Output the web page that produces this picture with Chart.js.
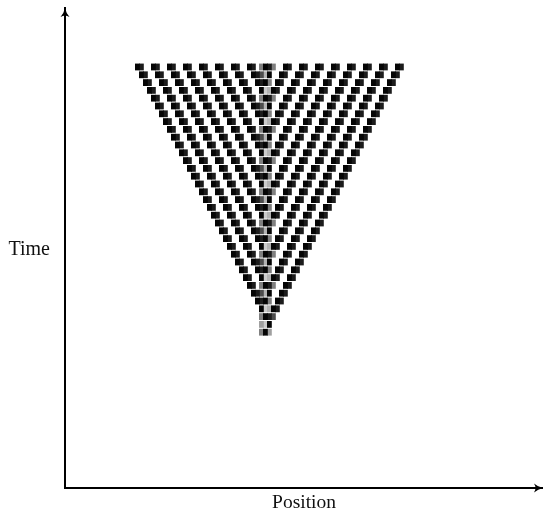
<!DOCTYPE html>
<html>
<head>
<meta charset="utf-8">
<title>Time / Position</title>
<script src="https://cdn.jsdelivr.net/npm/chart.js@4"></script>
<style>
  html, body { margin: 0; padding: 0; background: #fff; }
  canvas { display: block; }
</style>
</head>
<body>
<canvas id="myChart" width="543" height="512"></canvas>
<script>
// darkness read per cell, one string per time step. '.' is empty, 0 black up to 9 very light
const rows = [
  '01..01..01..01..01..01..01..01.5015..01..01..01..01..01..01..01..01',
  '.01..01..01..01..01..01..01..01370..01..01..01..01..01..01..01..01.',
  '..01..01..01..01..01..01..01..0105.01..01..01..01..01..01..01..01..',
  '...01..01..01..01..01..01..01..08701..01..01..01..01..01..01..01...',
  '....01..01..01..01..01..01..01.5015..01..01..01..01..01..01..01....',
  '.....01..01..01..01..01..01..01370..01..01..01..01..01..01..01.....',
  '......01..01..01..01..01..01..0105.01..01..01..01..01..01..01......',
  '.......01..01..01..01..01..01..08701..01..01..01..01..01..01.......',
  '........01..01..01..01..01..01.5015..01..01..01..01..01..01........',
  '.........01..01..01..01..01..01370..01..01..01..01..01..01.........',
  '..........01..01..01..01..01..0105.01..01..01..01..01..01..........',
  '...........01..01..01..01..01..08701..01..01..01..01..01...........',
  '............01..01..01..01..01.5015..01..01..01..01..01............',
  '.............01..01..01..01..01370..01..01..01..01..01.............',
  '..............01..01..01..01..0105.01..01..01..01..01..............',
  '...............01..01..01..01..08701..01..01..01..01...............',
  '................01..01..01..01.5015..01..01..01..01................',
  '.................01..01..01..01370..01..01..01..01.................',
  '..................01..01..01..0105.01..01..01..01..................',
  '...................01..01..01..08701..01..01..01...................',
  '....................01..01..01.5015..01..01..01....................',
  '.....................01..01..01370..01..01..01.....................',
  '......................01..01..0105.01..01..01......................',
  '.......................01..01..08701..01..01.......................',
  '........................01..01.5015..01..01........................',
  '.........................01..01370..01..01.........................',
  '..........................01..0105.01..01..........................',
  '...........................01..08701..01...........................',
  '............................01.5015..01............................',
  '.............................01370..01.............................',
  '..............................0105.01..............................',
  '...............................08701...............................',
  '...............................5013................................',
  '...............................680.................................',
  '...............................506.................................'
]
const shades = ['#050505', '#1c1c1c', '#333333', '#4d4d4d', '#666666', '#808080', '#a0a0a0', '#b3b3b3', '#cccccc', '#e6e6e6']
const xLabel = 'Position'
const yLabel = 'Time'

// light levels first so the dark cells sit on top where the soft edges overlap
const datasets = shades.map((color, level) => {
  const cells = []
  rows.forEach((row, r) => {
    for (let c = 0; c < row.length; c++) {
      if (row[c] === String(level)) cells.push({ x: [c, c + 1], y: r })
    }
  })
  return {
    label: 'level ' + level,
    data: cells,
    order: level,
    backgroundColor: color,
    borderWidth: 0,
    borderSkipped: false,
    inflateAmount: 0.4,
    barThickness: 6,
    grouped: false
  }
})

// arrow heads at the end of both axes
const arrows = {
  id: 'arrows',
  afterDraw(chart) {
    const { ctx, chartArea: a } = chart
    ctx.save()
    ctx.fillStyle = '#000'
    ctx.beginPath()
    ctx.moveTo(a.left, a.top)
    ctx.quadraticCurveTo(a.left + 1, a.top + 5, a.left + 4.5, a.top + 9)
    ctx.quadraticCurveTo(a.left, a.top + 6, a.left - 4.5, a.top + 9)
    ctx.quadraticCurveTo(a.left - 1, a.top + 5, a.left, a.top)
    ctx.fill()
    ctx.beginPath()
    ctx.moveTo(a.right, a.bottom)
    ctx.quadraticCurveTo(a.right - 5, a.bottom + 1, a.right - 9, a.bottom + 4.5)
    ctx.quadraticCurveTo(a.right - 6, a.bottom, a.right - 9, a.bottom - 4.5)
    ctx.quadraticCurveTo(a.right - 5, a.bottom - 1, a.right, a.bottom)
    ctx.fill()
    ctx.restore()
  }
}

// the picture is a soft upscaled raster, so the cells get a slight blur
const softCells = {
  id: 'softCells',
  beforeDatasetsDraw(chart) { chart.ctx.filter = 'blur(0.4px)' },
  afterDatasetsDraw(chart) { chart.ctx.filter = 'none' }
}

new Chart(document.getElementById('myChart'), {
  type: 'bar',
  data: { datasets: datasets },
  plugins: [softCells, arrows],
  options: {
    indexAxis: 'y',
    responsive: false,
    animation: false,
    layout: { padding: { top: 8 } },
    plugins: {
      legend: { display: false },
      tooltip: { enabled: false }
    },
    scales: {
      x: {
        type: 'linear',
        min: -17.6,
        max: 101.9,
        grid: { display: false },
        border: { display: true, color: '#000', width: 2 },
        ticks: { display: false },
        title: {
          display: true,
          text: xLabel,
          color: '#111',
          font: { family: '"Liberation Serif"', size: 19.5, lineHeight: 0.9 },
          padding: 0
        },
        afterFit(scale) { scale.height = 24 }
      },
      y: {
        type: 'linear',
        reverse: true,
        offset: false,
        min: -7.56,
        max: 53.97,
        grid: { display: false, drawTicks: false },
        border: { display: true, color: '#000', width: 2 },
        afterBuildTicks(scale) { scale.ticks = [{ value: 23.45 }] },
        ticks: {
          color: '#111',
          padding: 15,
          font: { family: '"Liberation Serif"', size: 20 },
          callback: () => yLabel
        },
        afterFit(scale) {
          scale.width = 65
          scale.paddingTop = 0
          scale.paddingBottom = 0
        }
      }
    }
  }
})
</script>
</body>
</html>
